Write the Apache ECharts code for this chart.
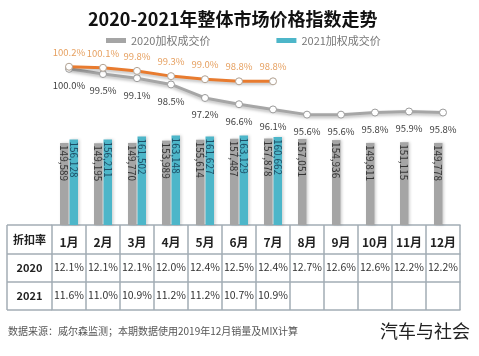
<!DOCTYPE html>
<html>
<head>
<meta charset="utf-8">
<script src="https://cdn.jsdelivr.net/npm/echarts@6/dist/echarts.min.js"></script>
<style>
html,body{margin:0;padding:0;background:#fff;}
#chart{width:479px;height:356px;}
</style>
</head>
<body>
<div id="chart"></div>
<script>
const months = ['1月','2月','3月','4月','5月','6月','7月','8月','9月','10月','11月','12月'];
const price2020 = [149589,149195,149770,153989,155614,157487,157878,157051,154936,149811,151115,149778];
const price2021 = [156128,156211,161502,163148,161627,163129,160662,null,null,null,null,null];
const index2020 = [100.0,99.5,99.1,98.5,97.2,96.6,96.1,95.6,95.6,95.8,95.9,95.8];
const index2021 = [100.2,100.1,99.8,99.3,99.0,98.8,98.8];
const disc2020 = ['12.1%','12.1%','12.1%','12.0%','12.4%','12.5%','12.4%','12.7%','12.6%','12.6%','12.2%','12.2%'];
const disc2021 = ['11.6%','11.0%','10.9%','11.2%','11.2%','10.7%','10.9%','','','','',''];
const rowNames = ['折扣率','2020','2021'];

const FONT = '"Noto Sans CJK SC", "Noto Sans", sans-serif';
const LINE_C = '#a3adb5';
const fmt = v => v == null ? '' : v.toLocaleString('en-US');

const chart = echarts.init(document.getElementById('chart'));

const tableLeft = 7, gridLeft = 52;
const rowY = [225, 254, 282, 310];
const graphics = [];
rowY.forEach(y => graphics.push({type:'line', shape:{x1:tableLeft, y1:y, x2:gridLeft, y2:y}, style:{stroke:LINE_C, lineWidth:1.5}}));
graphics.push({type:'line', shape:{x1:tableLeft, y1:rowY[0], x2:tableLeft, y2:rowY[3]}, style:{stroke:LINE_C, lineWidth:1.5}});
const rowCenters = [240, 268, 296];
rowNames.forEach((n, i) => graphics.push({
  type:'text', x:(tableLeft+gridLeft)/2, y:rowCenters[i],
  style:{text:n, font:'bold 11px ' + FONT, fill:'#222', align:'center', verticalAlign:'middle'}
}));
graphics.push({type:'text', x:8, y:331, style:{text:'数据来源：威尔森监测；本期数据使用2019年12月销量及MIX计算', font:'10px ' + FONT, fill:'#555', verticalAlign:'middle'}});
graphics.push({type:'text', x:470, y:331, style:{text:'汽车与社会', font:'18px ' + FONT, fill:'#222', align:'right', verticalAlign:'middle'}});

const rowAxis = (labels, offset) => ({
  type:'category', data:months, gridIndex:0, position:'bottom', offset:offset,
  axisLine:{show:true, lineStyle:{color:LINE_C, width:1.5}},
  axisTick:{show:false},
  axisLabel:{show:labels != null, interval:0, margin:8, fontSize:10.5, color:'#333', fontFamily:FONT,
    formatter:(v, i) => labels ? labels[i] : ''}
});

chart.setOption({
  animation:false,
  textStyle:{fontFamily:FONT},
  title:{text:'2020-2021年整体市场价格指数走势', left:83, top:5,
    textStyle:{fontSize:18, fontWeight:'bold', color:'#111', fontFamily:FONT}},
  legend:{data:['2020加权成交价','2021加权成交价'], left:101, top:30, icon:'rect',
    itemWidth:20, itemHeight:5, itemGap:66,
    textStyle:{fontSize:11, color:'#777', fontFamily:FONT}},
  grid:{left:gridLeft, right:19, top:48, bottom:131},
  xAxis:[
    {type:'category', data:months, boundaryGap:true,
      axisLine:{show:true, lineStyle:{color:LINE_C, width:1.5}},
      axisTick:{show:true, interval:0, length:85, lineStyle:{color:LINE_C, width:1.5}},
      axisLabel:{interval:0, margin:11, fontSize:12, fontWeight:'bold', color:'#222', fontFamily:FONT}},
    rowAxis(disc2020, 29),
    rowAxis(disc2021, 57),
    rowAxis(null, 85)
  ],
  yAxis:[
    {type:'value', min:0, max:323000, show:false, splitLine:{show:false}},
    {type:'value', min:85, max:102, show:false, splitLine:{show:false}}
  ],
  series:[
    {name:'2020加权成交价', type:'bar', data:price2020, barWidth:8.5, barGap:'12%',
      itemStyle:{color:'#a5a5a5', shadowColor:'rgba(0,0,0,0.18)', shadowBlur:3, shadowOffsetX:1.5},
      label:{show:true, position:'insideTop', distance:2, rotate:-90, align:'left', verticalAlign:'middle',
        fontSize:10, color:'#333', fontFamily:FONT, formatter:p => fmt(p.value)}},
    {name:'2021加权成交价', type:'bar', data:price2021, barWidth:8.5,
      itemStyle:{color:'#4db6c9', shadowColor:'rgba(0,0,0,0.18)', shadowBlur:3, shadowOffsetX:1.5},
      label:{show:true, position:'insideTop', distance:2, rotate:-90, align:'left', verticalAlign:'middle',
        fontSize:10, color:'#1c4e66', fontFamily:FONT, formatter:p => fmt(p.value)}},
    {name:'2020指数', type:'line', yAxisIndex:1, data:index2020, z:5,
      symbol:'circle', symbolSize:7,
      lineStyle:{color:'#a6a6a6', width:3, shadowColor:'rgba(0,0,0,0.25)', shadowBlur:3, shadowOffsetY:2},
      itemStyle:{color:'#fff', borderColor:'#9a9a9a', borderWidth:1},
      label:{show:true, position:'bottom', distance:8, fontSize:9.5, color:'#404040', fontFamily:FONT,
        formatter:p => p.value.toFixed(1) + '%'}},
    {name:'2021指数', type:'line', yAxisIndex:1, data:index2021, z:6,
      symbol:'circle', symbolSize:7,
      lineStyle:{color:'#e87b2f', width:3, shadowColor:'rgba(0,0,0,0.25)', shadowBlur:3, shadowOffsetY:2},
      itemStyle:{color:'#fff', borderColor:'#b0a090', borderWidth:1},
      label:{show:true, position:'top', distance:6, fontSize:9.5, color:'#e6a060', fontFamily:FONT,
        formatter:p => p.value.toFixed(1) + '%'}}
  ],
  graphic:graphics
});
</script>
</body>
</html>
